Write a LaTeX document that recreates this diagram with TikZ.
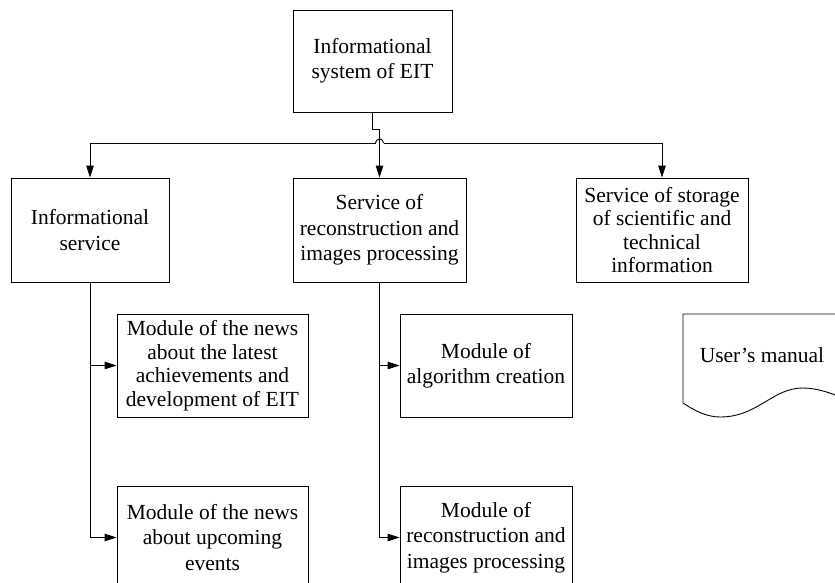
\documentclass[tikz,border=0pt]{standalone}
\usepackage{fontspec}
\setmainfont{Liberation Serif}
\usetikzlibrary{arrows.meta,calc}

\tikzset{
  blk/.style={draw=black, line width=0.9pt, rectangle, inner sep=0pt,
    align=center, font=\fontsize{21.5}{25.5}\selectfont},
  tight/.style={font=\fontsize{21.5}{23.5}\selectfont},
  arr/.style={line width=0.9pt, -{Triangle[length=12pt,width=7.5pt]}},
  wire/.style={line width=0.9pt},
}

\begin{document}
\begin{tikzpicture}[x=1pt,y=-1pt]
  \useasboundingbox (0,0) rectangle (835,583);
  \clip (0,0) rectangle (835,583);
  \fill[white] (0,0) rectangle (835,583);

  % top level
  \node[blk, minimum width=159pt, minimum height=102pt] (top) at (372.5,61)
    {Informational\\system of EIT};

  % services
  \node[blk, minimum width=158pt, minimum height=104pt] (info) at (90,230)
    {Informational\\service};
  \node[blk, minimum width=173pt, minimum height=104pt] (recon) at (379.5,230)
    {Service of\\reconstruction and\\images processing};
  \node[blk, tight, minimum width=172pt, minimum height=104pt] (store) at (662,230)
    {Service of storage\\of scientific and\\technical\\information};

  % modules
  \node[blk, tight, minimum width=191pt, minimum height=103pt] (news1) at (212.5,365.5)
    {Module of the news\\about the latest\\achievements and\\development of EIT};
  \node[blk, minimum width=191pt, minimum height=103pt] (news2) at (212.5,537.5)
    {Module of the news\\about upcoming\\events};
  \node[blk, minimum width=172pt, minimum height=103pt] (alg) at (486,365.5)
    {Module of\\algorithm creation};
  \node[blk, minimum width=172pt, minimum height=103pt] (recon2) at (486,537.5)
    {Module of\\reconstruction and\\images processing};

  % document shape
  \draw[wire] (850,314) -- (683,314) -- (683,403)
    .. controls (695,411) and (707,417) .. (720,417)
    .. controls (758,417) and (772,388) .. (803,388)
    .. controls (818,388) and (834,394) .. (850,401);
  \node[font=\fontsize{21.5}{23.5}\selectfont, inner sep=0pt] (doc) at (762,355) {User’s manual};

  % top connector with jog
  \coordinate (jog) at ($(top.south)+(0,17)$);
  \draw[arr] (top.south) -- (jog) -| (recon.north);

  % distribution bus with line hop
  \coordinate (busL) at (info.north |- 0,143);
  \coordinate (busR) at (store.north |- 0,143);
  \coordinate (hopL) at ($(recon.north |- 0,143)+(-4,0)$);
  \coordinate (hopR) at ($(recon.north |- 0,143)+(4,0)$);
  \draw[arr] (hopL) -- (busL) -- (info.north);
  \draw[arr] (hopR) -- (busR) -- (store.north);
  \draw[wire] (hopL) arc[start angle=180, end angle=360, radius=4];

  % module connectors
  \draw[arr] (info.south) |- (news2.west);
  \draw[arr] (info.south |- news1.west) -- (news1.west);
  \draw[arr] (recon.south) |- (recon2.west);
  \draw[arr] (recon.south |- alg.west) -- (alg.west);
\end{tikzpicture}
\end{document}
